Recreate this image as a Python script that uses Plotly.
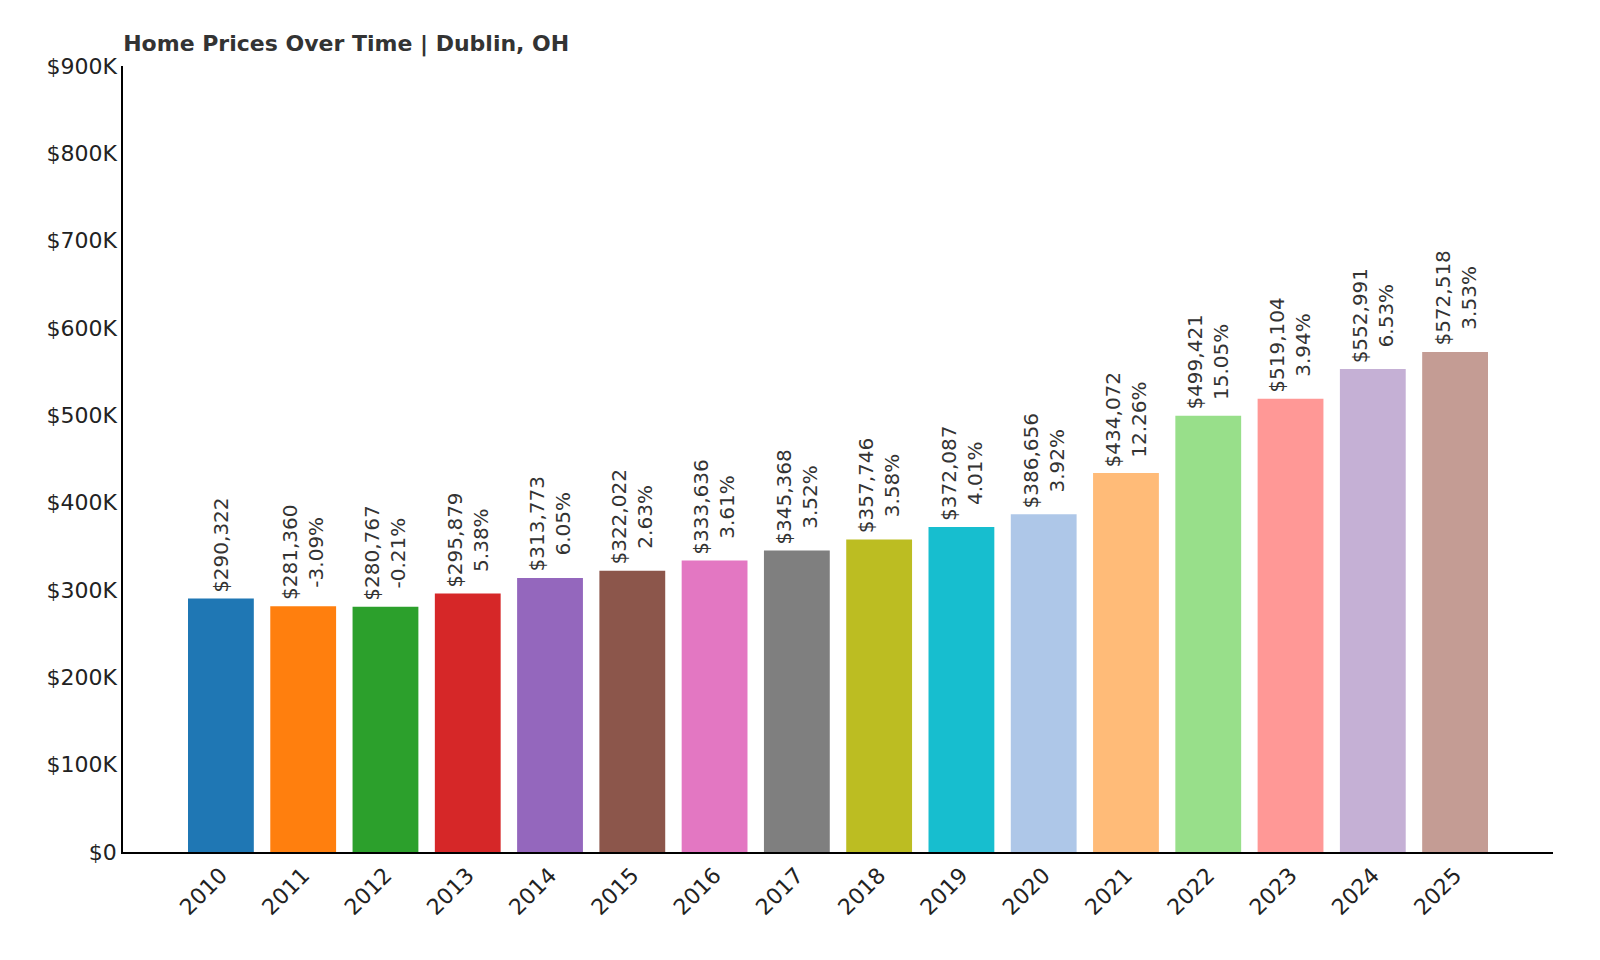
import plotly.graph_objects as go

years = ["2010", "2011", "2012", "2013", "2014", "2015", "2016", "2017",
         "2018", "2019", "2020", "2021", "2022", "2023", "2024", "2025"]
prices = [290322, 281360, 280767, 295879, 313773, 322022, 333636, 345368,
          357746, 372087, 386656, 434072, 499421, 519104, 552991, 572518]
changes = [None, -3.09, -0.21, 5.38, 6.05, 2.63, 3.61, 3.52,
           3.58, 4.01, 3.92, 12.26, 15.05, 3.94, 6.53, 3.53]
colors = ["#1f77b4", "#ff7f0e", "#2ca02c", "#d62728", "#9467bd", "#8c564b",
          "#e377c2", "#7f7f7f", "#bcbd22", "#17becf", "#aec7e8", "#ffbb78",
          "#98df8a", "#ff9896", "#c5b0d5", "#c49c94"]

fig = go.Figure(go.Bar(x=list(range(len(years))), y=prices, marker_color=colors,
                       marker_line_width=0, width=0.8))

# rotated value / change labels above each bar
for i, (p, c) in enumerate(zip(prices, changes)):
    txt = f"${p:,}" if c is None else f"${p:,}<br>{c:.2f}%"
    fig.add_annotation(x=i, y=p, text=txt, textangle=-90, showarrow=False,
                       xanchor="center", yanchor="bottom", yshift=4,
                       font=dict(size=20, color="#333333"))

fig.update_layout(
    title=dict(text="<b>Home Prices Over Time | Dublin, OH</b>", x=0.072, xanchor="left",
               y=0.963, yanchor="middle", font=dict(size=22, color="#333333")),
    width=1600, height=960,
    margin=dict(l=115, r=55, t=58, b=116),
    paper_bgcolor="white", plot_bgcolor="white",
    font=dict(family="DejaVu Sans", color="#222222"),
    showlegend=False,
    xaxis=dict(tickmode="array", tickvals=list(range(len(years))), ticktext=years,
               tickangle=-45, range=[-1.19, 16.19], showline=True, linecolor="black",
               linewidth=1.5, showgrid=False, tickfont=dict(size=22), ticks=""),
    yaxis=dict(range=[0, 900000], tickvals=list(range(0, 900001, 100000)),
               ticktext=["$0"] + [f"${k}K" for k in range(100, 901, 100)],
               showline=True, linecolor="black", linewidth=1.5, showgrid=False,
               zeroline=False, tickfont=dict(size=22), ticks=""),
)

fig.write_html("out.html")
